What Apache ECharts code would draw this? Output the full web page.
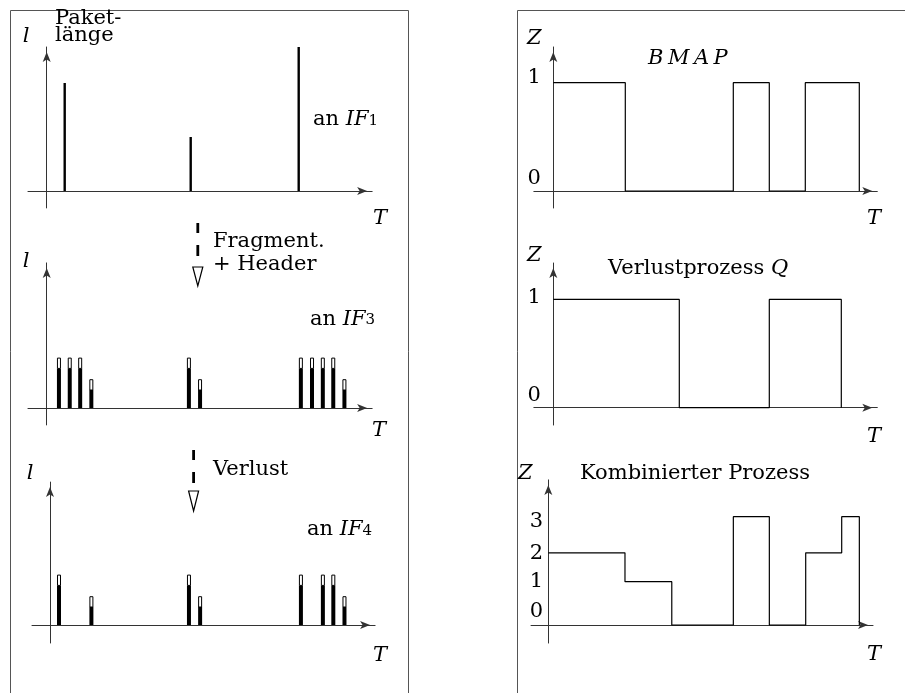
<!DOCTYPE html>
<html><head><meta charset="utf-8">
<script src="https://cdn.jsdelivr.net/npm/echarts@6/dist/echarts.min.js"></script>
<style>html,body{margin:0;padding:0;background:#fff}#c{width:905px;height:693px}</style>
</head><body><div id="c"></div>
<script>
// ---------------- data ----------------
// packets at interface IF1 (time, length)
const pktTime = [0.5, 4.0, 7.0];
const pktLen  = [3.0, 1.5, 4.0];
// fragments at IF3 (time, payload length); every fragment gets a header
const frag3Time = [0.34, 0.64, 0.93, 1.24, 3.95, 4.26, 7.06, 7.37, 7.67, 7.96, 8.27];
const frag3Len  = [1.1, 1.1, 1.1, 0.5, 1.1, 0.5, 1.1, 1.1, 1.1, 1.1, 0.5];
// fragments at IF4 after loss
const frag4Time = [0.25, 1.15, 3.86, 4.17, 6.97, 7.58, 7.87, 8.18];
const frag4Len  = [1.1, 0.5, 1.1, 0.5, 1.1, 1.1, 1.1, 0.5];
const headerLen = 0.3;
// BMAP state process
const bmapTime  = [0, 2, 5, 6, 7, 8.5];
const bmapState = [1, 0, 1, 0, 1, 0];
// loss process Q
const qTime  = [0, 3.5, 6, 8];
const qState = [1, 0, 1, 0];
// combined process
const combTime  = [0, 2.13, 3.43, 5.14, 6.14, 7.15, 8.15, 8.64];
const combState = [2, 1, 0, 3, 0, 2, 3, 0];
const combLevel = [0, 1.2, 2, 3];          // drawn height of each state
// tick labels
const zLabels2   = ['0', '1'];
const bmapLblPos = [0.117, 1.048];
const qLblPos    = [0.114, 1.018];
const zLabels4   = ['0', '1', '2', '3'];
const combLblPos = [0.37, 1.2, 1.99, 2.87];

// ---------------- layout ----------------
const U = 36;
const panels = [
  {ox: 46.7,  oy: 191,   x0: -0.52, x1: 9.04, y0: -0.47, y1: 4.0,  uy: 36},
  {ox: 46.7,  oy: 408,   x0: -0.52, x1: 9.04, y0: -0.47, y1: 4.03, uy: 36},
  {ox: 50,    oy: 625,   x0: -0.5,  x1: 9.03, y0: -0.5,  y1: 3.97, uy: 36},
  {ox: 553.3, oy: 191,   x0: -0.54, x1: 9.0,  y0: -0.157, y1: 1.33, uy: 108.3},
  {ox: 553.3, oy: 407.7, x0: -0.54, x1: 9.0,  y0: -0.16, y1: 1.336, uy: 108.3},
  {ox: 548.3, oy: 625,   x0: -0.48, x1: 9.02, y0: -0.5,  y1: 4.02, uy: 36.1}
];
const FONT = '"DejaVu Serif", "Liberation Serif", serif';
const FS = 21;
const AX = '#333';

const grids = [], xAxes = [], yAxes = [];
panels.forEach((p, i) => {
  grids.push({left: p.ox + p.x0 * U, top: p.oy - p.y1 * p.uy,
              width: (p.x1 - p.x0) * U, height: (p.y1 - p.y0) * p.uy});
  const line = {show: true, onZero: true, symbol: ['none', 'arrow'], symbolSize: [6, 10],
                symbolOffset: [0, -5], lineStyle: {color: AX, width: 1}};
  xAxes.push({gridIndex: i, type: 'value', min: p.x0, max: p.x1, axisLine: line,
              axisTick: {show: false}, axisLabel: {show: false}, splitLine: {show: false}});
  yAxes.push({gridIndex: i, type: 'value', min: p.y0, max: p.y1, axisLine: line,
              axisTick: {show: false}, axisLabel: {show: false}, splitLine: {show: false}});
});
function labelAxis(ax, pos, labels, margin) {
  ax.axisLabel = {show: true, customValues: pos, margin: margin, color: '#000',
    fontFamily: FONT, fontSize: FS,
    formatter: v => { let k = 0, d = 1e9; pos.forEach((q, j) => { if (Math.abs(q - v) < d) { d = Math.abs(q - v); k = j; } }); return labels[k]; }};
}
labelAxis(yAxes[3], bmapLblPos, zLabels2, -7);
labelAxis(yAxes[4], qLblPos, zLabels2, -7);
labelAxis(yAxes[5], combLblPos, zLabels4, -12);

function stickItem(params, api) {
  const x = api.value(0), h = api.value(1);
  const b = api.coord([x, 0]), t = api.coord([x, h]);
  return {type: 'rect', shape: {x: b[0] - 1.2, y: t[1], width: 2.4, height: b[1] - t[1]}, style: {fill: '#000'}};
}
function fragItem(params, api) {
  const x = api.value(0), pl = api.value(1);
  const b = api.coord([x, 0]), m = api.coord([x, pl]), t = api.coord([x, pl + headerLen]);
  return {type: 'group', children: [
    {type: 'rect', shape: {x: b[0] - 2, y: m[1], width: 4, height: b[1] - m[1]}, style: {fill: '#000'}},
    {type: 'rect', shape: {x: b[0] - 1.5, y: t[1] + 0.5, width: 3, height: m[1] - t[1] - 0.5},
     style: {fill: '#fff', stroke: '#000', lineWidth: 1}}
  ]};
}
const zip = (a, b) => a.map((v, i) => [v, b[i]]);
const stepLine = (idx, data) => ({type: 'line', xAxisIndex: idx, yAxisIndex: idx, step: 'end',
  showSymbol: false, data: data, lineStyle: {color: '#000', width: 1.2}, silent: true});

const series = [
  {type: 'custom', xAxisIndex: 0, yAxisIndex: 0, renderItem: stickItem, data: zip(pktTime, pktLen)},
  {type: 'custom', xAxisIndex: 1, yAxisIndex: 1, renderItem: fragItem, data: zip(frag3Time, frag3Len)},
  {type: 'custom', xAxisIndex: 2, yAxisIndex: 2, renderItem: fragItem, data: zip(frag4Time, frag4Len)},
  stepLine(3, zip(bmapTime, bmapState)),
  stepLine(4, zip(qTime, qState)),
  stepLine(5, combTime.map((t, i) => [t, combLevel[combState[i]]]))
];

// ---------------- annotations ----------------
const K = 0.33;
function txt(x, base, text, italic, size) {
  const s = size || FS;
  return {type: 'text', silent: true, style: {text: text, x: x, y: base - K * s,
    font: (italic ? 'italic ' : '') + s + 'px ' + FONT, fill: '#000',
    textAlign: 'left', textVerticalAlign: 'middle', align: 'left', verticalAlign: 'middle'}};
}
function richTxt(x, base, text, rich) {
  return {type: 'text', silent: true, style: {text: text, x: x, y: base - K * FS,
    textAlign: 'left', textVerticalAlign: 'middle', align: 'left', verticalAlign: 'middle', rich: rich}};
}
const R = {fontFamily: FONT, fontSize: FS, lineHeight: 24, color: '#000'};
const I = Object.assign({}, R, {fontStyle: 'italic'});
const SUB = {fontFamily: FONT, fontSize: 15, lineHeight: 15, padding: [3, 0, 0, 0], color: '#000'};
const ifTxt = (x, base, n) => richTxt(x, base, '{a|an }{b|IF}{c|' + n + '}', {a: R, b: I, c: SUB});
const BM = Object.assign({}, I, {padding: [0, 4.5, 0, 0]});
function dashArrow(cx, d1, d2, t0, t1) {
  return [
    {type: 'rect', silent: true, shape: {x: cx - 1.4, y: d1[0], width: 2.8, height: d1[1] - d1[0]}, style: {fill: '#000'}},
    {type: 'rect', silent: true, shape: {x: cx - 1.4, y: d2[0], width: 2.8, height: d2[1] - d2[0]}, style: {fill: '#000'}},
    {type: 'polygon', silent: true, shape: {points: [[cx - 5, t0], [cx + 5, t0], [cx, t1]]},
     style: {fill: '#fff', stroke: '#000', lineWidth: 1.2}}
  ];
}
const frame = {stroke: '#555', lineWidth: 1, fill: null};
const graphic = [
  {type: 'polyline', silent: true, shape: {points: [[10.5, 693], [10.5, 10.5], [408.5, 10.5], [408.5, 693]]}, style: frame},
  {type: 'polyline', silent: true, shape: {points: [[517.5, 693], [517.5, 10.5], [905, 10.5]]}, style: frame},
  ...dashArrow(197.8, [223, 233], [245, 256], 267, 286),
  ...dashArrow(193.6, [450, 460], [472, 483], 491, 511),
  txt(22.7, 43, 'l', true), txt(22.7, 268, 'l', true), txt(26.7, 480, 'l', true),
  txt(55, 25, 'Paket-'), txt(55, 42, 'länge'),
  ifTxt(313, 126.7, 1), ifTxt(310, 326, 3), ifTxt(307, 536.7, 4),
  txt(213, 248, 'Fragment.'), txt(213, 271.7, '+ Header'), txt(213, 476, 'Verlust'),
  txt(373, 225.5, 'T', true), txt(372, 437, 'T', true), txt(373, 662, 'T', true),
  txt(867, 225.5, 'T', true), txt(867, 443, 'T', true), txt(867, 661.7, 'T', true),
  txt(527, 45, 'Z', true), txt(527, 262, 'Z', true), txt(518, 480, 'Z', true),
  richTxt(648, 65, '{b|B}{b|M}{b|A}{b|P}', {b: BM}),
  richTxt(608, 275, '{a|Verlustprozess }{b|Q}', {a: R, b: I}),
  txt(580, 480, 'Kombinierter Prozess')
];

const chart = echarts.init(document.getElementById('c'), null, {renderer: 'canvas'});
chart.setOption({animation: false, backgroundColor: '#fff', grid: grids, xAxis: xAxes, yAxis: yAxes,
  series: series, graphic: graphic});
</script></body></html>
